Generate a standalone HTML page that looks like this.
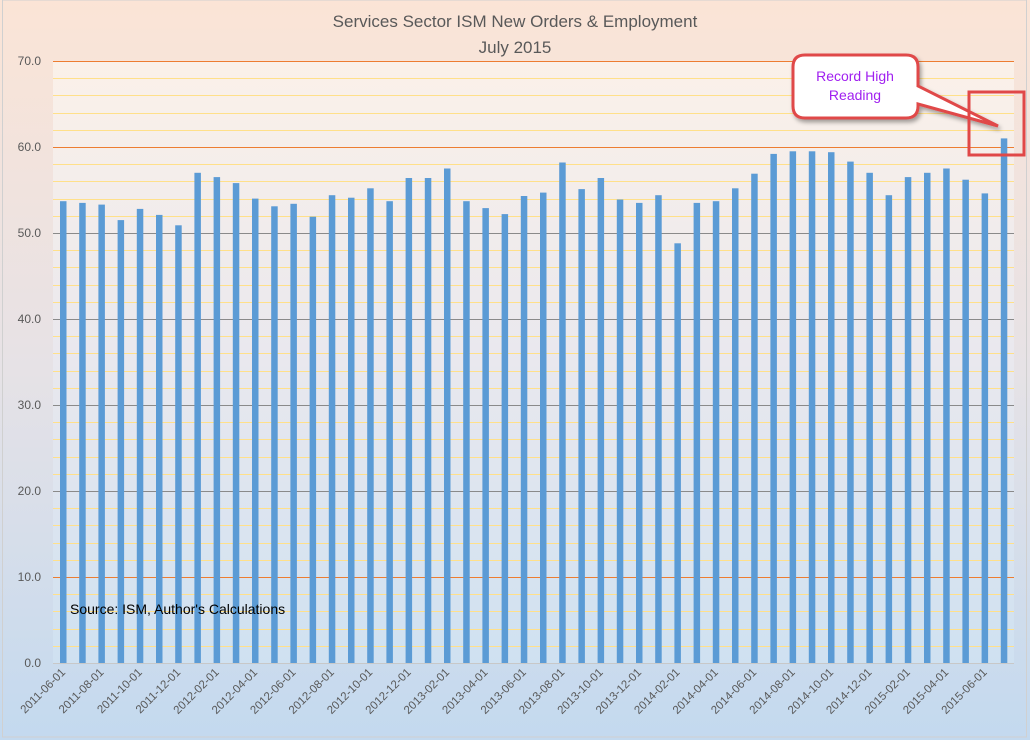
<!DOCTYPE html>
<html><head><meta charset="utf-8"><style>
html,body{margin:0;padding:0;}
body{width:1030px;height:740px;overflow:hidden;font-family:"Liberation Sans",sans-serif;}
</style></head><body>
<svg width="1030" height="740" xmlns="http://www.w3.org/2000/svg">
<defs>
<linearGradient id="bg" x1="0" y1="0" x2="0" y2="1">
<stop offset="0" stop-color="#fbe4d6"/><stop offset="0.5" stop-color="#e6e2e6"/><stop offset="1" stop-color="#c3d9ef"/>
</linearGradient>
<linearGradient id="pa" x1="0" y1="0" x2="0" y2="1">
<stop offset="0" stop-color="#fbf1e9"/><stop offset="0.5" stop-color="#e9e8ee"/><stop offset="1" stop-color="#cfe1f1"/>
</linearGradient>
<filter id="sh"><feDropShadow dx="2" dy="3" stdDeviation="2" flood-opacity="0.35"/></filter>
</defs>
<rect x="0" y="0" width="1030" height="740" fill="url(#bg)"/>
<rect x="2.5" y="0" width="1024" height="737" fill="none" stroke="#d0d0d0"/>
<rect x="53" y="61" width="961" height="602" fill="url(#pa)"/>
<g id="grid"></g>
<g id="bars" fill="#5b9bd5"></g>
<g id="lab" font-size="11.5" fill="#595959"></g>
<g font-size="12" fill="#595959" text-anchor="end">
<text x="41" y="65">70.0</text><text x="41" y="151">60.0</text><text x="41" y="237">50.0</text><text x="41" y="323">40.0</text><text x="41" y="409">30.0</text><text x="41" y="495">20.0</text><text x="41" y="581">10.0</text><text x="41" y="667">0.0</text>
</g>
<text x="515" y="27" font-size="17" fill="#595959" text-anchor="middle">Services Sector ISM New Orders &amp; Employment</text>
<text x="515" y="53" font-size="17" fill="#595959" text-anchor="middle">July 2015</text>
<text x="70" y="614" font-size="14" fill="#000">Source: ISM, Author's Calculations</text>
<g filter="url(#sh)">
<path d="M805,55 H906 Q918,55 918,67 V86 L998,126 L918,104 V106 Q918,118 906,118 H805 Q793,118 793,106 V67 Q793,55 805,55 Z" fill="#fff" stroke="#e04848" stroke-width="3"/>
</g>
<text x="855" y="81" font-size="14" fill="#a020f0" text-anchor="middle">Record High</text>
<text x="855" y="100" font-size="14" fill="#a020f0" text-anchor="middle">Reading</text>
<rect x="969" y="92" width="55" height="63" fill="none" stroke="#e04848" stroke-width="3"/>
<script>
var v=[53.7,53.5,53.3,51.5,52.8,52.1,50.9,57.0,56.5,55.8,54.0,53.1,53.4,51.9,54.4,54.1,55.2,53.7,56.4,56.4,57.5,53.7,52.9,52.2,54.3,54.7,58.2,55.1,56.4,53.9,53.5,54.4,48.8,53.5,53.7,55.2,56.9,59.2,59.5,59.5,59.4,58.3,57.0,54.4,56.5,57.0,57.5,56.2,54.6,61.0];
var ns="http://www.w3.org/2000/svg",g=document.getElementById('grid'),b=document.getElementById('bars'),l=document.getElementById('lab');
function y(val){return 663-val*8.6;}
for(var k=0;k<=35;k++){var val=k*2;var ln=document.createElementNS(ns,'line');ln.setAttribute('x1',53);ln.setAttribute('x2',1014);var yy=Math.round(y(val))+0.5;ln.setAttribute('y1',yy);ln.setAttribute('y2',yy);
var c='#ffe08a';if(val%10==0){c=(val==70||val==60||val==10)?'#ed7d31':'#8a8a8a';}if(val==0)c='#c8c8c8';ln.setAttribute('stroke',c);ln.setAttribute('stroke-width',1);g.appendChild(ln);}
for(var i=0;i<50;i++){var x=60+i*19.2;var r=document.createElementNS(ns,'rect');r.setAttribute('x',x.toFixed(1));r.setAttribute('width',6.5);r.setAttribute('y',y(v[i]).toFixed(1));r.setAttribute('height',(v[i]*8.6).toFixed(1));b.appendChild(r);
if(i%2==0){var m=5+i,yr=2011+Math.floor(m/12),mo=m%12+1;var t=document.createElementNS(ns,'text');t.textContent=yr+'-'+(mo<10?'0':'')+mo+'-01';var cx=x+6,cy=673;t.setAttribute('x',cx);t.setAttribute('y',cy);t.setAttribute('text-anchor','end');t.setAttribute('transform','rotate(-45 '+cx+' '+cy+')');l.appendChild(t);}}
</script>
</svg>
</body></html>
